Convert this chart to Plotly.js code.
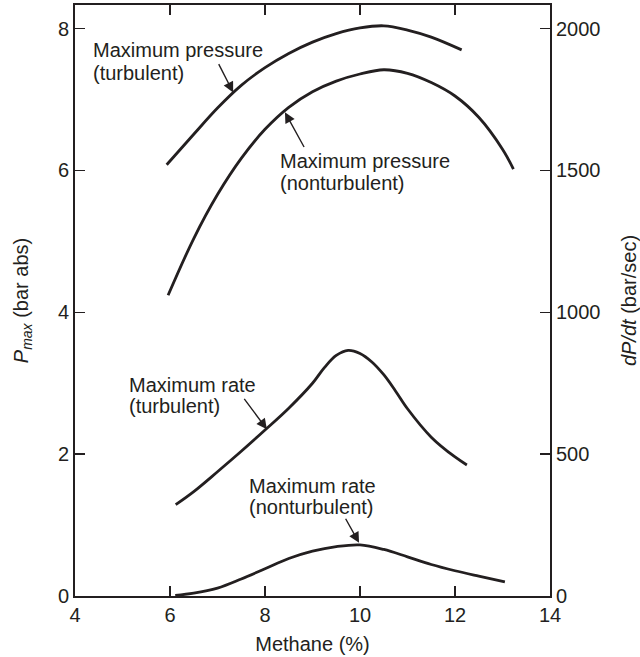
<!DOCTYPE html>
<html>
<head>
<meta charset="utf-8">
<script src="https://cdn.plot.ly/plotly-3.0.1.min.js"></script>
<style>
  html, body { margin: 0; padding: 0; background: #fff; }
  #chart { width: 640px; height: 657px; }
</style>
</head>
<body>
<div id="chart"></div>
<script>
// Maximum pressure, turbulent (bar abs)
const pTurbX = [5.93, 6.5, 7.0, 7.5, 8.0, 8.5, 9.0, 9.5, 10.0, 10.5, 11.0, 11.5, 12.14];
const pTurbY = [6.08, 6.51, 6.88, 7.20, 7.45, 7.65, 7.81, 7.93, 8.01, 8.04, 7.98, 7.88, 7.70];

// Maximum pressure, nonturbulent (bar abs)
const pQuietX = [5.96, 6.5, 7.0, 7.5, 8.0, 8.5, 9.0, 9.5, 10.0, 10.5, 11.0, 11.5, 12.0, 12.5, 13.0, 13.23];
const pQuietY = [4.24, 5.04, 5.66, 6.17, 6.58, 6.89, 7.11, 7.26, 7.36, 7.42, 7.37, 7.24, 7.05, 6.75, 6.30, 6.02];

// Maximum rate of pressure rise, turbulent (bar/sec)
const rTurbX = [6.12, 6.5, 7.0, 7.5, 8.0, 8.5, 9.0, 9.25, 9.5, 9.75, 10.0, 10.25, 10.5, 10.75, 11.0, 11.5, 12.0, 12.25];
const rTurbY = [322, 368, 438, 510, 585, 662, 750, 805, 848, 866, 855, 825, 780, 722, 660, 560, 490, 462];

// Maximum rate of pressure rise, nonturbulent (bar/sec)
const rQuietX = [6.11, 6.5, 7.0, 7.5, 8.0, 8.5, 9.0, 9.5, 10.0, 10.5, 11.0, 11.5, 12.0, 12.5, 13.05];
const rQuietY = [2, 10, 28, 60, 96, 132, 158, 174, 180, 164, 138, 111, 89, 70, 50];

const xTicks = [4, 6, 8, 10, 12, 14];
const yTicks = [0, 2, 4, 6, 8];
const y2Ticks = [0, 500, 1000, 1500, 2000];

const ink = '#231f20';
const fontFam = 'Liberation Sans, Arial, sans-serif';
const fs = 20;
const curve = { color: ink, width: 2.8, shape: 'spline', smoothing: 1 };

const traces = [
  { x: pTurbX, y: pTurbY, mode: 'lines', line: curve, yaxis: 'y', hoverinfo: 'skip' },
  { x: pQuietX, y: pQuietY, mode: 'lines', line: curve, yaxis: 'y', hoverinfo: 'skip' },
  { x: rTurbX, y: rTurbY, mode: 'lines', line: curve, yaxis: 'y2', hoverinfo: 'skip' },
  { x: rQuietX, y: rQuietY, mode: 'lines', line: curve, yaxis: 'y2', hoverinfo: 'skip' }
];

// Curve labels (one entry per line) and their pointer arrows, in left-axis units
const labels = [
  { lines: ['Maximum pressure', '(turbulent)'], x: 4.34, y: [7.70, 7.38], tail: [7.01, 7.52], tip: [7.33, 7.10] },
  { lines: ['Maximum pressure', '(nonturbulent)'], x: 8.28, y: [6.14, 5.82], tail: [8.84, 6.31], tip: [8.42, 6.82] },
  { lines: ['Maximum rate', '(turbulent)'], x: 5.10, y: [2.97, 2.68], tail: [7.54, 2.80], tip: [8.04, 2.35] },
  { lines: ['Maximum rate', '(nonturbulent)'], x: 7.62, y: [1.55, 1.25], tail: [9.68, 1.11], tip: [9.98, 0.75] }
];

const annotations = [];
labels.forEach(l => {
  l.lines.forEach((t, i) => {
    annotations.push({
      xref: 'x', yref: 'y', x: l.x, y: l.y[i], text: t, showarrow: false,
      xanchor: 'left', yanchor: 'middle', align: 'left',
      font: { family: fontFam, size: fs, color: ink }
    });
  });
  annotations.push({
    xref: 'x', yref: 'y', axref: 'x', ayref: 'y',
    x: l.tip[0], y: l.tip[1], ax: l.tail[0], ay: l.tail[1],
    text: '', showarrow: true, arrowhead: 2, arrowsize: 1.5, arrowwidth: 1.4,
    arrowcolor: ink, standoff: 0, startstandoff: 0
  });
});

const layout = {
  width: 640, height: 657,
  margin: { l: 75, r: 90, t: 5, b: 61 },
  paper_bgcolor: '#fff', plot_bgcolor: '#fff',
  showlegend: false,
  font: { family: fontFam, size: fs, color: ink },
  xaxis: {
    range: [4, 14], tickvals: xTicks, ticktext: xTicks.map(String),
    ticks: 'inside', ticklen: 10, tickwidth: 1.5, tickcolor: ink,
    showline: true, linewidth: 2, linecolor: ink, mirror: 'ticks',
    showgrid: false, zeroline: false,
    tickfont: { size: fs, color: ink },
    title: { text: 'Methane (%)', font: { size: fs, color: ink }, standoff: 12 }
  },
  yaxis: {
    range: [0, 8.333], tickvals: yTicks, ticktext: yTicks.map(String),
    ticks: 'inside', ticklen: 10, tickwidth: 1.5, tickcolor: ink,
    showline: true, linewidth: 2, linecolor: ink, mirror: true,
    showgrid: false, zeroline: false,
    tickfont: { size: fs, color: ink },
    title: { text: '<i>P</i><sub><i>max</i></sub> (bar abs)', font: { size: fs, color: ink }, standoff: 24 }
  },
  yaxis2: {
    range: [0, 2083.3], tickvals: y2Ticks, ticktext: y2Ticks.map(String),
    overlaying: 'y', side: 'right', anchor: 'x',
    ticks: 'inside', ticklen: 10, tickwidth: 1.5, tickcolor: ink,
    showline: true, linewidth: 2, linecolor: ink,
    showgrid: false, zeroline: false,
    tickfont: { size: fs, color: ink },
    title: { text: '<i>dP/dt</i> (bar/sec)', font: { size: fs, color: ink }, standoff: 22 }
  },
  annotations: annotations
};

Plotly.newPlot('chart', traces, layout, { staticPlot: true, displayModeBar: false });
</script>
</body>
</html>
